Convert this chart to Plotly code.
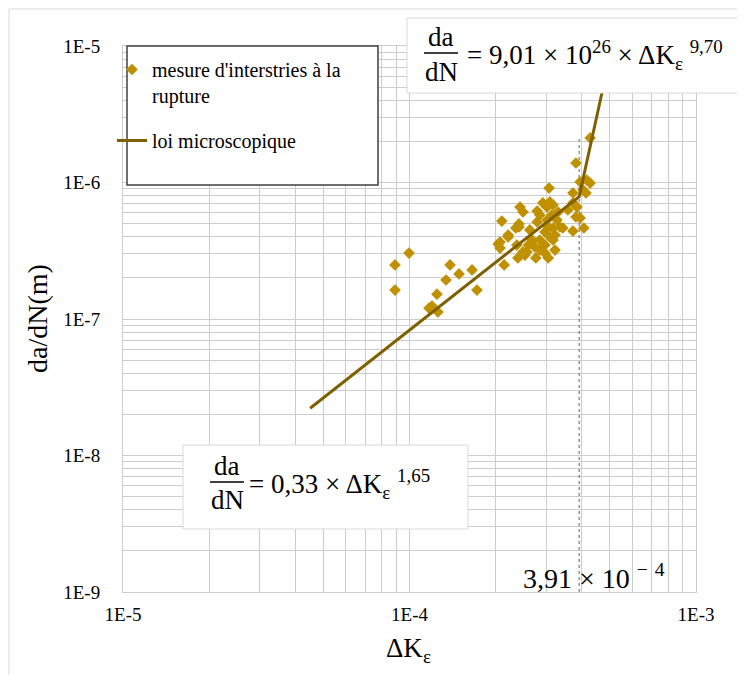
import plotly.graph_objects as go

# Measured points: ΔK_eps (x) and da/dN in m (y)
meas_x = [0.89e-4, 0.996e-4, 0.89e-4, 1.385e-4, 1.341e-4, 1.489e-4, 1.653e-4, 1.72e-4,
          1.247e-4, 1.198e-4, 1.17e-4, 1.257e-4, 2.10e-4, 2.14e-4, 2.04e-4, 2.07e-4,
          2.21e-4, 2.35e-4, 2.41e-4, 2.37e-4, 2.43e-4, 2.49e-4, 2.39e-4, 2.53e-4,
          2.57e-4, 2.79e-4, 2.79e-4, 2.68e-4, 2.74e-4, 2.85e-4, 2.97e-4, 2.92e-4,
          3.02e-4, 3.09e-4, 3.17e-4, 3.07e-4, 3.02e-4, 3.05e-4, 3.17e-4, 3.27e-4,
          3.35e-4, 3.09e-4, 3.17e-4, 3.30e-4, 3.43e-4, 3.57e-4, 3.72e-4, 3.72e-4,
          3.72e-4, 3.84e-4, 3.94e-4, 4.06e-4, 3.81e-4, 3.94e-4, 4.16e-4, 4.27e-4,
          4.13e-4, 4.03e-4, 4.27e-4, 3.81e-4, 2.41e-4, 2.21e-4, 2.07e-4, 2.49e-4,
          2.85e-4, 2.97e-4, 2.63e-4, 3.22e-4, 2.97e-4, 2.85e-4, 3.14e-4, 2.76e-4,
          2.60e-4, 3.22e-4, 3.05e-4]
meas_y = [2.49e-7, 3.04e-7, 1.63e-7, 2.49e-7, 1.93e-7, 2.14e-7, 2.29e-7, 1.63e-7,
          1.52e-7, 1.245e-7, 1.20e-7, 1.125e-7, 5.22e-7, 2.49e-7, 3.54e-7, 3.31e-7,
          3.99e-7, 4.64e-7, 4.72e-7, 3.48e-7, 6.61e-7, 6.08e-7, 2.80e-7, 2.94e-7,
          3.10e-7, 6.18e-7, 5.14e-7, 3.79e-7, 3.37e-7, 3.20e-7, 3.04e-7, 7.08e-7,
          6.61e-7, 7.20e-7, 6.84e-7, 9.11e-7, 5.31e-7, 4.72e-7, 4.64e-7, 5.31e-7,
          4.72e-7, 3.99e-7, 3.79e-7, 6.08e-7, 4.64e-7, 6.29e-7, 4.41e-7, 7.08e-7,
          8.38e-7, 6.61e-7, 5.50e-7, 4.64e-7, 1.39e-6, 1.01e-6, 1.04e-6, 0.99e-6,
          8.38e-7, 8.82e-7, 2.12e-6, 5.59e-7, 4.97e-7, 4.12e-7, 3.66e-7, 3.10e-7,
          3.79e-7, 3.48e-7, 4.49e-7, 4.12e-7, 4.34e-7, 5.78e-7, 5.78e-7, 2.80e-7,
          3.48e-7, 3.20e-7, 2.80e-7]

# Microscopic law (two power-law branches, read at their end points)
law_x = [4.5e-5, 3.91e-4, 5.1e-4]
law_y = [2.22e-8, 7.87e-7, 1.0e-5]

# Transition marker
trans_x = [3.91e-4, 3.91e-4]
trans_y = [1e-9, 2.15e-6]

x_ticks = [1e-5, 1e-4, 1e-3]
x_ticktext = ["1E-5", "1E-4", "1E-3"]
y_ticks = [1e-9, 1e-8, 1e-7, 1e-6, 1e-5]
y_ticktext = ["1E-9", "1E-8", "1E-7", "1E-6", "1E-5"]

SERIF = "Liberation Serif"
GRID = "#cccccc"

fig = go.Figure()
fig.add_trace(go.Scatter(
    x=trans_x, y=trans_y, mode="lines", showlegend=False, hoverinfo="skip",
    line=dict(color="#606060", width=1, dash="dot")))
fig.add_trace(go.Scatter(
    x=meas_x, y=meas_y, mode="markers", name="mesure d'interstries à la<br>rupture",
    legendgroup="a",
    marker=dict(symbol="diamond", size=9, color="#bf9000")))
fig.add_trace(go.Scatter(
    x=law_x, y=law_y, mode="lines", name="loi microscopique", legendgroup="b",
    line=dict(color="#7f6000", width=3)))

fig.update_xaxes(type="log", range=[-5, -3], tickvals=x_ticks, ticktext=x_ticktext,
                 showgrid=True, gridcolor=GRID, gridwidth=1,
                 minor=dict(dtick="D1", showgrid=True, gridcolor=GRID, gridwidth=1),
                 showline=True, linecolor=GRID, mirror=True, zeroline=False,
                 ticks="outside", ticklen=5, tickcolor="rgba(0,0,0,0)",
                 tickfont=dict(family=SERIF, size=19, color="#000"))
fig.update_yaxes(type="log", range=[-9, -5], tickvals=y_ticks, ticktext=y_ticktext,
                 showgrid=True, gridcolor=GRID, gridwidth=1,
                 minor=dict(dtick="D1", showgrid=True, gridcolor=GRID, gridwidth=1),
                 showline=True, linecolor=GRID, mirror=True, zeroline=False,
                 ticks="outside", ticklen=18, tickcolor="rgba(0,0,0,0)",
                 tickfont=dict(family=SERIF, size=19, color="#000"))

# The page body adds an 8px offset; figure is sized so the plot lands on target pixels
OFF = 8
W, H = 737, 667
L, R, T, B = 115, 49, 38, 83
pw, ph = W - L - R, H - T - B


def px(x):
    return (x - OFF - L) / pw


def py(y):
    return (H - B - (y - OFF)) / ph


shapes = [
    # chart area border
    dict(type="rect", xref="paper", yref="paper", x0=px(9), x1=px(760), y0=py(690), y1=py(9),
         line=dict(color="#d9d9d9", width=1), fillcolor="rgba(0,0,0,0)", layer="below"),
    # legend box
    dict(type="rect", xref="paper", yref="paper", x0=px(127), x1=px(378), y0=py(185), y1=py(46),
         line=dict(color="#404040", width=1.5), fillcolor="white", layer="above"),
    # top formula box
    dict(type="rect", xref="paper", yref="paper", x0=px(407), x1=px(742), y0=py(93), y1=py(18),
         line=dict(color="#d9d9d9", width=1), fillcolor="white", layer="above"),
    # bottom formula box
    dict(type="rect", xref="paper", yref="paper", x0=px(183), x1=px(468), y0=py(529), y1=py(445),
         line=dict(color="#d9d9d9", width=1), fillcolor="white", layer="above"),
    # fraction bars
    dict(type="line", xref="paper", yref="paper", x0=px(424), x1=px(458), y0=py(53), y1=py(53),
         line=dict(color="black", width=1.5), layer="above"),
    dict(type="line", xref="paper", yref="paper", x0=px(210), x1=px(244), y0=py(482), y1=py(482),
         line=dict(color="black", width=1.5), layer="above"),
]

MF = dict(family=SERIF, size=27, color="black")
ann = [
    dict(x=px(441), y=py(37), text="da", xanchor="center", yanchor="middle", font=MF),
    dict(x=px(441), y=py(72), text="dN", xanchor="center", yanchor="middle", font=MF),
    dict(x=px(465), y=py(55), text="= 9,01 × 10<sup>26</sup> × ΔK<sub>ε</sub> <sup>9,70</sup>",
         xanchor="left", yanchor="middle", font=MF),
    dict(x=px(227), y=py(466), text="da", xanchor="center", yanchor="middle", font=MF),
    dict(x=px(227), y=py(500), text="dN", xanchor="center", yanchor="middle", font=MF),
    dict(x=px(247), y=py(484), text="= 0,33 × ΔK<sub>ε</sub> <sup>1,65</sup>",
         xanchor="left", yanchor="middle", font=MF),
    dict(x=px(521), y=py(576), text="3,91 × 10 <sup>−</sup> <sup>4</sup>",
         xanchor="left", yanchor="middle", font=dict(family=SERIF, size=28, color="black")),
    # axis titles
    dict(x=px(408), y=py(650), text="ΔK<sub>ε</sub>", xanchor="center", yanchor="middle",
         font=dict(family=SERIF, size=27, color="black")),
    dict(x=px(37), y=py(319), text="da/dN(m)", textangle=-90, xanchor="center",
         yanchor="middle", font=dict(family=SERIF, size=28, color="black")),
]
for a in ann:
    a.update(xref="paper", yref="paper", showarrow=False)

fig.update_layout(
    width=W, height=H, margin=dict(l=L, r=R, t=T, b=B),
    paper_bgcolor="white", plot_bgcolor="white",
    shapes=shapes, annotations=ann,
    legend=dict(x=px(112), y=py(50), xanchor="left", yanchor="top",
                bgcolor="rgba(0,0,0,0)", borderwidth=0, valign="top",
                tracegroupgap=16, font=dict(family=SERIF, size=20, color="black")),
    showlegend=True,
)

fig.write_html("out.html")
